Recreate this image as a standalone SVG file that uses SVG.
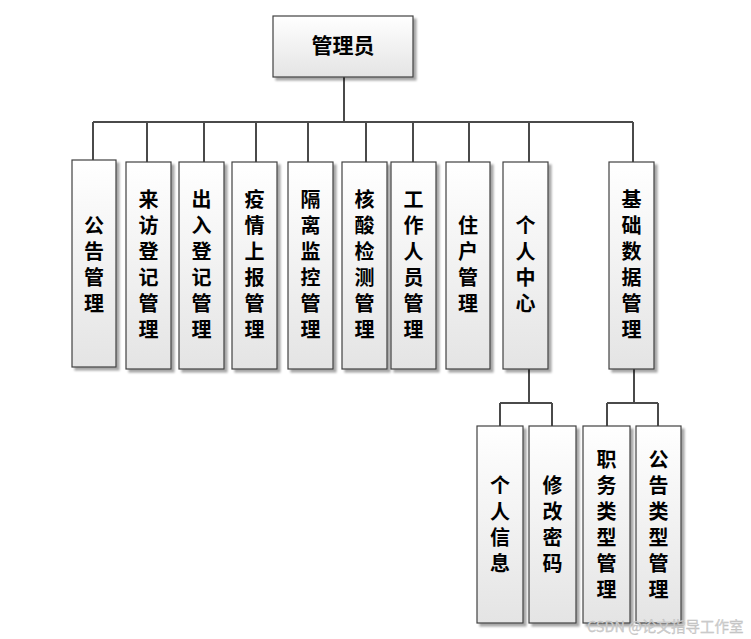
<svg xmlns="http://www.w3.org/2000/svg" width="751" height="639" viewBox="0 0 751 639">
<defs>
<linearGradient id="g" x1="0" y1="0" x2="0" y2="1">
<stop offset="0" stop-color="#ffffff"/>
<stop offset="1" stop-color="#e4e4e4"/>
</linearGradient>
<filter id="sh" x="-20%" y="-20%" width="150%" height="150%">
<feGaussianBlur in="SourceAlpha" stdDeviation="1.2"/>
<feOffset dx="3" dy="3" result="b"/>
<feComponentTransfer><feFuncA type="linear" slope="0.35"/></feComponentTransfer>
<feMerge><feMergeNode/><feMergeNode in="SourceGraphic"/></feMerge>
</filter>
</defs>
<style>
.box{fill:url(#g);stroke:#404040;stroke-width:1.2;filter:url(#sh)}
.t{font-family:"Noto Sans CJK SC","Noto Sans CJK JP",sans-serif;font-size:20px;font-weight:bold;fill:#000;text-anchor:middle}
.v{writing-mode:vertical-rl;letter-spacing:6px}
.ln{fill:none;stroke:#4a4a4a;stroke-width:2}
.wm{font-family:"Noto Sans CJK SC","Liberation Sans",sans-serif;font-size:14.5px;fill:#d0d0d0;stroke:#bdbdbd;stroke-width:0.3}
</style>
<rect width="751" height="639" fill="#ffffff"/>
<g id="connectors">
<path class="ln" d="M344 77V122M93 122H633M93 122V160M147 122V162M204 122V162M256 122V162M308 122V162M366 122V162M413 122V162M469 122V162M529 122V162M633 122V162"/>
<path class="ln" d="M529 369V403M500 403H552M500 403V426M552 403V426"/>
<path class="ln" d="M634 369V403M607 403H658M607 403V426M658 403V426"/>
</g>
<g id="n0"><rect class="box" x="273" y="16" width="140" height="61"/><text class="t" x="343" y="53" style="font-size:21px">管理员</text></g>
<g id="n1"><rect class="box" x="72" y="160" width="44" height="207"/><text class="t v" x="94" y="267">公告管理</text></g>
<g id="n2"><rect class="box" x="126" y="162" width="45" height="207"/><text class="t v" x="148.5" y="267">来访登记管理</text></g>
<g id="n3"><rect class="box" x="179" y="162" width="45" height="207"/><text class="t v" x="201.5" y="267">出入登记管理</text></g>
<g id="n4"><rect class="box" x="232" y="162" width="45" height="207"/><text class="t v" x="254.5" y="267">疫情上报管理</text></g>
<g id="n5"><rect class="box" x="288" y="162" width="45" height="207"/><text class="t v" x="310.5" y="267">隔离监控管理</text></g>
<g id="n6"><rect class="box" x="342" y="162" width="45" height="207"/><text class="t v" x="364.5" y="267">核酸检测管理</text></g>
<g id="n7"><rect class="box" x="391" y="162" width="45" height="207"/><text class="t v" x="413.5" y="267">工作人员管理</text></g>
<g id="n8"><rect class="box" x="446" y="162" width="44" height="207"/><text class="t v" x="468" y="267">住户管理</text></g>
<g id="n9"><rect class="box" x="503" y="162" width="45" height="207"/><text class="t v" x="525.5" y="267">个人中心</text></g>
<g id="n10"><rect class="box" x="609" y="162" width="45" height="207"/><text class="t v" x="631.5" y="267">基础数据管理</text></g>
<g id="n11"><rect class="box" x="477" y="426" width="46" height="197"/><text class="t v" x="500" y="527">个人信息</text></g>
<g id="n12"><rect class="box" x="529" y="426" width="47" height="197"/><text class="t v" x="552.5" y="527">修改密码</text></g>
<g id="n13"><rect class="box" x="583" y="426" width="47" height="197"/><text class="t v" x="606.5" y="527">职务类型管理</text></g>
<g id="n14"><rect class="box" x="636" y="426" width="45" height="197"/><text class="t v" x="658.5" y="527">公告类型管理</text></g>
<text class="wm" x="587" y="632">CSDN @论文指导工作室</text>
</svg>
